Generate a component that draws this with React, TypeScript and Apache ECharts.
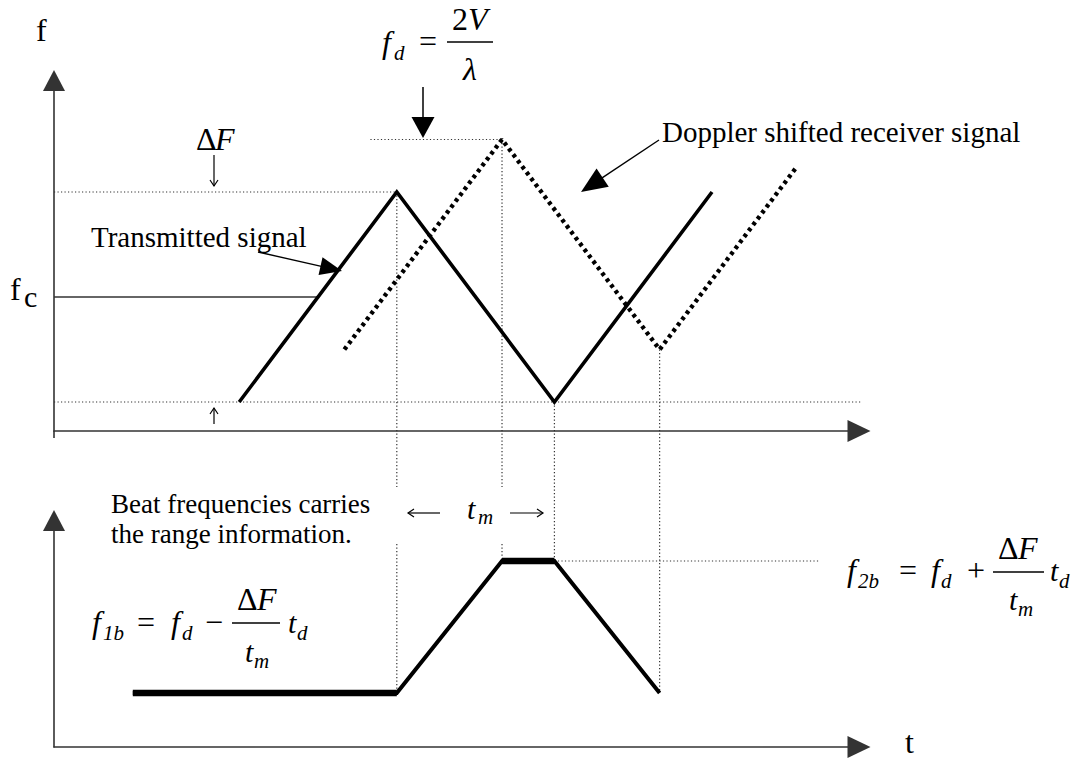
import React, { useEffect, useRef } from "react";
import * as echarts from "echarts";

// Triangular FM sweep (time units, frequency units)
const txTime = [0, 4, 8, 12];
const txFreq = [1, 5, 1, 5];
// Echo: delayed by t_d and shifted up by f_d
const rxTime = [2.67, 6.67, 10.67, 14.15];
const rxFreq = [2, 6, 2, 5.48];
// Beat frequency (lower panel)
const beatTime = [-2.7, 4, 6.67, 8, 10.67];
const beatFreq = [2, 2, 7, 7, 2];

// Reference levels in the upper panel
const carrierFreq = 3;
const carrierMeetTime = 2;
const sweepLow = 1;
const sweepHigh = 5;
const dopplerHigh = 6;
const dopplerGuideStart = 3.33;
const lowGuideEnd = 15.94;
// Reference level in the lower panel
const f2bGuideEnd = 14.75;

// Vertical guides joining the two panels
const guideTimes = [4, 6.67, 8, 10.67];
const guideTopFreq = [5, 6, 1, 2];
const guideBeatFreq = [2, 7, 7, 2];
const guideBreak = [true, true, false, false];

// Axis extents
const tMin = -4.7;
const tMax = 15.73;
const fMin = 0.448;
const fMax = 7.124;
const bMin = -0.045;
const bMax = 8.534;

const SERIF = "Liberation Serif";
const INK = "#000";
const AXIS = "#333";

const pairs = (xs: number[], ys: number[]) => xs.map((x, i) => [x, ys[i]]);

function label(
  text: string,
  x: number,
  baseline: number,
  size: number,
  italic = false,
  align: "left" | "center" | "right" = "left"
) {
  return {
    type: "text",
    x,
    y: baseline - 0.34 * size,
    silent: true,
    style: {
      text,
      fontSize: size,
      fontFamily: SERIF,
      fontStyle: italic ? "italic" : "normal",
      fill: INK,
      align,
      verticalAlign: "middle",
      textAlign: align,
      textVerticalAlign: "middle",
    },
  };
}

function solidArrow(x1: number, y1: number, x2: number, y2: number, len: number, half: number, width = 1.4) {
  const dx = x2 - x1;
  const dy = y2 - y1;
  const n = Math.hypot(dx, dy);
  const ux = dx / n;
  const uy = dy / n;
  const bx = x2 - ux * len;
  const by = y2 - uy * len;
  const px = -uy;
  const py = ux;
  return [
    {
      type: "line",
      silent: true,
      shape: { x1, y1, x2: bx + ux * 2, y2: by + uy * 2 },
      style: { stroke: INK, lineWidth: width },
    },
    {
      type: "polygon",
      silent: true,
      shape: {
        points: [
          [x2, y2],
          [bx + px * half, by + py * half],
          [bx - px * half, by - py * half],
        ],
      },
      style: { fill: INK },
    },
  ];
}

function openArrow(x1: number, y1: number, x2: number, y2: number) {
  const dx = x2 - x1;
  const dy = y2 - y1;
  const n = Math.hypot(dx, dy);
  const ux = dx / n;
  const uy = dy / n;
  const px = -uy;
  const py = ux;
  const len = 6;
  const half = 4;
  return [
    {
      type: "line",
      silent: true,
      shape: { x1, y1, x2, y2 },
      style: { stroke: INK, lineWidth: 1.2 },
    },
    {
      type: "polyline",
      silent: true,
      shape: {
        points: [
          [x2 - ux * len + px * half, y2 - uy * len + py * half],
          [x2, y2],
          [x2 - ux * len - px * half, y2 - uy * len - py * half],
        ],
      },
      style: { stroke: INK, lineWidth: 1.2, fill: null },
    },
  ];
}

function fractionBar(x1: number, x2: number, y: number) {
  return {
    type: "line",
    silent: true,
    shape: { x1, y1: y, x2, y2: y },
    style: { stroke: INK, lineWidth: 1.5 },
  };
}

const thinDotted = { color: AXIS, width: 1.2, type: [1.2, 2.3] as number[] };

function axisPair(gridIndex: number, min: number, max: number, vertical: boolean) {
  return {
    gridIndex,
    type: "value",
    min,
    max,
    axisLine: {
      show: true,
      onZero: false,
      symbol: ["none", "triangle"],
      symbolSize: vertical ? [22, 21] : [22, 23],
      lineStyle: { color: AXIS, width: 1.6 },
    },
    axisTick: { show: false },
    axisLabel: { show: false },
    splitLine: { show: false },
  };
}

function buildAnnotations() {
  return [
    // axis names
    label("f", 36, 41, 32),
    label("f", 10, 300, 32),
    label("c", 24, 307, 30),
    label("t", 905, 753, 32),
    // bottom of the upper y axis
    {
      type: "line",
      silent: true,
      shape: { x1: 54, y1: 431, x2: 54, y2: 438 },
      style: { stroke: AXIS, lineWidth: 1.6 },
    },
    // ΔF marker
    label("Δ", 196, 150, 32),
    label("F", 215, 150, 32, true),
    ...openArrow(214, 155, 214, 186),
    ...openArrow(214, 424, 214, 408),
    // f_d = 2V / λ
    label("f", 382, 53, 32, true),
    label("d", 394, 60, 21, true),
    label("=", 428, 52, 32, false, "center"),
    label("2", 452, 30, 32),
    label("V", 468, 30, 32, true),
    fractionBar(447, 493, 42),
    label("λ", 470, 80, 32, true, "center"),
    ...solidArrow(423, 87, 423, 138, 21, 11.5, 1.5),
    // signal captions
    label("Transmitted signal", 91, 247, 29),
    ...solidArrow(258, 252, 342, 271, 22, 9),
    label("Doppler shifted receiver signal", 662, 142, 29),
    ...solidArrow(659, 140, 581, 192, 26, 11),
    // lower panel captions
    label("Beat frequencies carries", 111, 513, 27),
    label("the range information.", 111, 543, 27),
    ...openArrow(440, 513, 408, 513),
    label("t", 467, 519, 30, true),
    label("m", 478, 524, 21, true),
    ...openArrow(510, 513, 543, 513),
    // f_1b = f_d − (ΔF / t_m) t_d
    label("f", 92, 633, 32, true),
    label("1b", 103, 640, 21, true),
    label("=", 146, 633, 32, false, "center"),
    label("f", 171, 633, 32, true),
    label("d", 182, 640, 21, true),
    label("−", 214, 633, 32, false, "center"),
    label("Δ", 237, 610, 32),
    label("F", 257, 610, 32, true),
    fractionBar(232, 280, 623),
    label("t", 245, 662, 30, true),
    label("m", 254, 668, 21, true),
    label("t", 288, 633, 30, true),
    label("d", 297, 640, 21, true),
    // f_2b = f_d + (ΔF / t_m) t_d
    label("f", 847, 581, 32, true),
    label("2b", 858, 588, 21, true),
    label("=", 908, 581, 32, false, "center"),
    label("f", 931, 581, 32, true),
    label("d", 941, 588, 21, true),
    label("+", 976, 581, 32, false, "center"),
    label("Δ", 998, 559, 32),
    label("F", 1018, 559, 32, true),
    fractionBar(993, 1044, 572),
    label("t", 1009, 610, 30, true),
    label("m", 1018, 616, 21, true),
    label("t", 1050, 581, 30, true),
    label("d", 1059, 588, 21, true),
  ];
}

export default function App() {
  const ref = useRef<HTMLDivElement>(null);

  useEffect(() => {
    if (!ref.current) return;
    const chart = echarts.init(ref.current, undefined, { renderer: "svg" });

    chart.setOption({
      animation: false,
      backgroundColor: "#fff",
      textStyle: { fontFamily: SERIF },
      grid: [
        { left: 54, top: 80.5, width: 805, height: 350.5 },
        { left: 54, top: 520.5, width: 805, height: 226.5 },
      ],
      xAxis: [axisPair(0, tMin, tMax, false), axisPair(1, tMin, tMax, false)],
      yAxis: [axisPair(0, fMin, fMax, true), axisPair(1, bMin, bMax, true)],
      series: [
        {
          name: "Transmitted",
          type: "line",
          xAxisIndex: 0,
          yAxisIndex: 0,
          data: pairs(txTime, txFreq),
          symbol: "none",
          silent: true,
          z: 5,
          lineStyle: { color: INK, width: 3.6, join: "miter" },
        },
        {
          name: "Received",
          type: "line",
          xAxisIndex: 0,
          yAxisIndex: 0,
          data: pairs(rxTime, rxFreq),
          symbol: "none",
          silent: true,
          z: 5,
          lineStyle: { color: INK, width: 4.4, type: [3.6, 3.8], cap: "butt" },
        },
        {
          name: "fc",
          type: "line",
          xAxisIndex: 0,
          yAxisIndex: 0,
          data: [
            [tMin, carrierFreq],
            [carrierMeetTime, carrierFreq],
          ],
          symbol: "none",
          silent: true,
          lineStyle: { color: AXIS, width: 1.5 },
        },
        {
          name: "ΔF level",
          type: "line",
          xAxisIndex: 0,
          yAxisIndex: 0,
          data: [
            [tMin, sweepHigh],
            [txTime[1], sweepHigh],
          ],
          symbol: "none",
          silent: true,
          lineStyle: thinDotted,
        },
        {
          name: "fd level",
          type: "line",
          xAxisIndex: 0,
          yAxisIndex: 0,
          data: [
            [dopplerGuideStart, dopplerHigh],
            [rxTime[1], dopplerHigh],
          ],
          symbol: "none",
          silent: true,
          lineStyle: thinDotted,
        },
        {
          name: "low level",
          type: "line",
          xAxisIndex: 0,
          yAxisIndex: 0,
          clip: false,
          data: [
            [tMin, sweepLow],
            [lowGuideEnd, sweepLow],
          ],
          symbol: "none",
          silent: true,
          lineStyle: thinDotted,
        },
        {
          name: "Beat",
          type: "line",
          xAxisIndex: 1,
          yAxisIndex: 1,
          data: pairs(beatTime, beatFreq),
          symbol: "none",
          silent: true,
          z: 5,
          lineStyle: { color: INK, width: 4, join: "miter" },
        },
        {
          name: "f1b",
          type: "line",
          xAxisIndex: 1,
          yAxisIndex: 1,
          data: pairs(beatTime.slice(0, 2), beatFreq.slice(0, 2)),
          symbol: "none",
          silent: true,
          z: 5,
          lineStyle: { color: INK, width: 6.5 },
        },
        {
          name: "f2b",
          type: "line",
          xAxisIndex: 1,
          yAxisIndex: 1,
          data: pairs(beatTime.slice(2, 4), beatFreq.slice(2, 4)),
          symbol: "none",
          silent: true,
          z: 5,
          lineStyle: { color: INK, width: 6.5 },
        },
        {
          name: "f2b level",
          type: "line",
          xAxisIndex: 1,
          yAxisIndex: 1,
          clip: false,
          data: [
            [beatTime[3], beatFreq[3]],
            [f2bGuideEnd, beatFreq[3]],
          ],
          symbol: "none",
          silent: true,
          lineStyle: thinDotted,
        },
      ],
    });

    // vertical guides run from the upper panel into the lower one
    const guides: any[] = [];
    const gapTop = 487;
    const gapBottom = 544;
    guideTimes.forEach((t, i) => {
      const top = chart.convertToPixel({ gridIndex: 0 }, [t, guideTopFreq[i]]) as number[];
      const bot = chart.convertToPixel({ gridIndex: 1 }, [t, guideBeatFreq[i]]) as number[];
      const x = top[0];
      const spans = guideBreak[i]
        ? [
            [top[1], gapTop],
            [gapBottom, bot[1]],
          ]
        : [[top[1], bot[1]]];
      spans.forEach(([y1, y2]) =>
        guides.push({
          type: "line",
          silent: true,
          shape: { x1: x, y1, x2: x, y2 },
          style: { stroke: AXIS, lineWidth: 1.2, lineDash: [1.2, 2.3] },
        })
      );
    });

    chart.setOption({ graphic: [...guides, ...buildAnnotations()] });

    return () => chart.dispose();
  }, []);

  return (
    <div
      ref={ref}
      style={{ position: "fixed", left: 0, top: 0, width: 1076, height: 761, background: "#fff" }}
    />
  );
}
